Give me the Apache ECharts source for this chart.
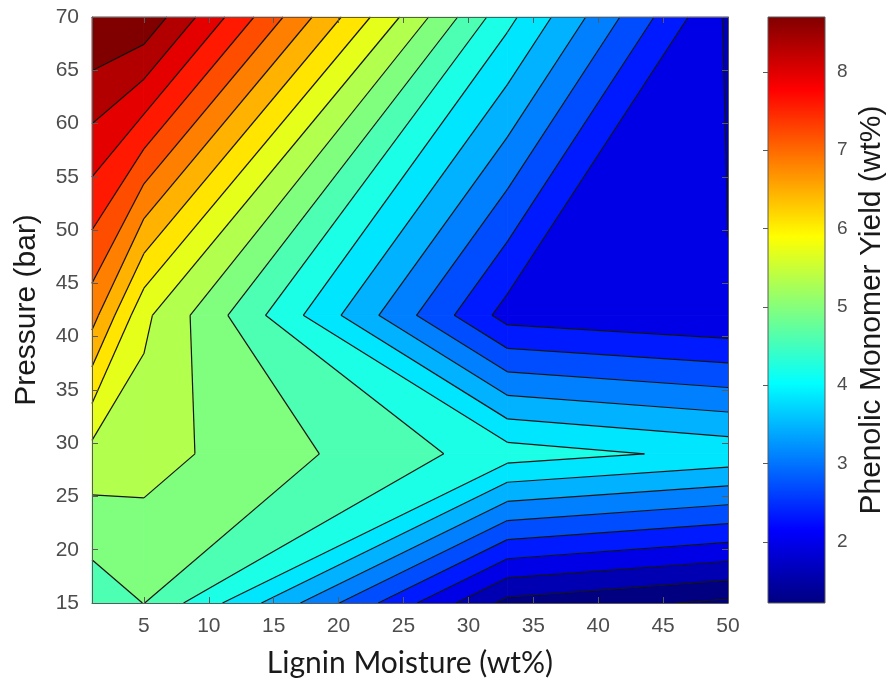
<!DOCTYPE html>
<html>
<head>
<meta charset="utf-8">
<script src="https://cdn.jsdelivr.net/npm/echarts@6/dist/echarts.min.js"></script>
<style>
  html, body { margin: 0; padding: 0; background: #ffffff; }
  #chart { width: 891px; height: 685px; }
</style>
</head>
<body>
<div id="chart"></div>
<script>
// Measurement grid: lignin moisture (wt%) x pressure (bar)
const moisture = [1, 5, 33, 50];
const pressure = [15, 29, 42, 70];
// Phenolic monomer yield (wt%), one row per pressure, one column per moisture
const yield15 = [4.90, 5.145, 1.82, 1.50];
const yield29 = [5.72, 5.64, 4.60, 4.32];
const yield42 = [7.06, 5.93, 2.50, 2.31];
const yield70 = [9.06, 8.98, 4.53, 2.23];
const yieldRows = [yield15, yield29, yield42, yield70];

// Contour levels and colour-bar limits
const levels = [1.576, 1.932, 2.289, 2.645, 3.001, 3.357, 3.713, 4.070, 4.426, 4.782,
                5.138, 5.494, 5.850, 6.207, 6.563, 6.919, 7.275, 7.632, 7.988, 8.344, 8.700];
const colorRange = [1.22, 8.70];

// Tick labels
const xTicks = [5, 10, 15, 20, 25, 30, 35, 40, 45, 50];
const yTicks = [15, 20, 25, 30, 35, 40, 45, 50, 55, 60, 65, 70];
const cbTicks = [2, 3, 4, 5, 6, 7, 8];

// Jet colormap
function clamp01(v) { return Math.max(0, Math.min(1, v)); }
function jetRGB(t) {
  t = clamp01(t);
  return [
    Math.round(255 * clamp01(1.5 - Math.abs(4 * t - 3))),
    Math.round(255 * clamp01(1.5 - Math.abs(4 * t - 2))),
    Math.round(255 * clamp01(1.5 - Math.abs(4 * t - 1)))
  ];
}
function jet(t) { const c = jetRGB(t); return 'rgb(' + c.join(',') + ')'; }

// Each filled band takes the colour of its lower contour level,
// spread over the first..last level range
function bandColor(k) {
  const lo = levels[0], hi = levels[levels.length - 1];
  const v = k === 0 ? lo : levels[k - 1];
  return jet((v - lo) / (hi - lo));
}

// Cells of the grid, referenced by their lower-left corner
const nx = moisture.length - 1, ny = pressure.length - 1;
const cells = [];
for (let j = 0; j < ny; j++) {
  for (let i = 0; i < nx; i++) cells.push([moisture[i], pressure[j], i, j]);
}

function cellRing(i, j) {
  return [
    { x: moisture[i],     y: pressure[j],     v: yieldRows[j][i] },
    { x: moisture[i + 1], y: pressure[j],     v: yieldRows[j][i + 1] },
    { x: moisture[i + 1], y: pressure[j + 1], v: yieldRows[j + 1][i + 1] },
    { x: moisture[i],     y: pressure[j + 1], v: yieldRows[j + 1][i] }
  ];
}

// Clip a cell outline (values vary linearly along its edges) to v >= level or v <= level
function clipRing(ring, level, keepAbove) {
  const out = [];
  for (let n = 0; n < ring.length; n++) {
    const p = ring[n], q = ring[(n + 1) % ring.length];
    const pin = keepAbove ? p.v >= level : p.v <= level;
    const qin = keepAbove ? q.v >= level : q.v <= level;
    if (pin) out.push(p);
    if (pin !== qin) {
      const t = (level - p.v) / (q.v - p.v);
      out.push({ x: p.x + t * (q.x - p.x), y: p.y + t * (q.y - p.y), v: level });
    }
  }
  return out;
}

function renderBands(params, api) {
  const i = api.value(2), j = api.value(3);
  const ring = cellRing(i, j);
  const bounds = [-Infinity].concat(levels, [Infinity]);
  const children = [];
  for (let k = 0; k < bounds.length - 1; k++) {
    let poly = ring;
    if (bounds[k] !== -Infinity) poly = clipRing(poly, bounds[k], true);
    if (poly.length >= 3 && bounds[k + 1] !== Infinity) poly = clipRing(poly, bounds[k + 1], false);
    if (poly.length < 3) continue;
    const color = bandColor(k);
    children.push({
      type: 'polygon',
      shape: { points: poly.map(p => api.coord([p.x, p.y])) },
      style: { fill: color, stroke: color, lineWidth: 0.8 }
    });
  }
  return { type: 'group', children: children };
}

function renderLines(params, api) {
  const i = api.value(2), j = api.value(3);
  const ring = cellRing(i, j);
  const children = [];
  levels.forEach(level => {
    const pts = [];
    for (let n = 0; n < 4; n++) {
      const p = ring[n], q = ring[(n + 1) % 4];
      if ((p.v - level) * (q.v - level) < 0) {
        const t = (level - p.v) / (q.v - p.v);
        pts.push(api.coord([p.x + t * (q.x - p.x), p.y + t * (q.y - p.y)]));
      }
    }
    for (let m = 0; m + 1 < pts.length; m += 2) {
      children.push({
        type: 'polyline',
        shape: { points: [pts[m], pts[m + 1]] },
        style: { stroke: '#141414', lineWidth: 1.2, fill: null }
      });
    }
  });
  return { type: 'group', children: children };
}

// Gradient for the colour bar
const jetStops = [];
for (let s = 0; s <= 32; s++) jetStops.push({ offset: s / 32, color: jet(s / 32) });

function renderColorbar(params, api) {
  const p0 = api.coord([0, colorRange[0]]);
  const p1 = api.coord([1, colorRange[1]]);
  return {
    type: 'rect',
    shape: { x: p0[0], y: p1[1], width: p1[0] - p0[0], height: p0[1] - p1[1] },
    style: {
      fill: new echarts.graphic.LinearGradient(0, 1, 0, 0, jetStops),
      stroke: '#5a5a5a', lineWidth: 1
    }
  };
}

const tickFont = { fontFamily: 'Liberation Sans', fontSize: 21, color: '#4d4d4d' };
const frameLine = { show: true, lineStyle: { color: '#5a5a5a', width: 1 } };

const chart = echarts.init(document.getElementById('chart'), null, { renderer: 'canvas' });
chart.setOption({
  animation: false,
  backgroundColor: '#ffffff',
  grid: [
    { left: 92, top: 17, width: 636, height: 586 },
    { left: 768, top: 17, width: 57, height: 586 }
  ],
  xAxis: [
    {
      type: 'value', gridIndex: 0, min: 1, max: 50, z: 10,
      axisLine: frameLine,
      axisTick: { show: true, inside: true, length: 6, customValues: xTicks, lineStyle: { color: '#5a5a5a' } },
      axisLabel: Object.assign({ margin: 13, customValues: xTicks }, tickFont),
      splitLine: { show: false },
      name: 'Lignin Moisture (wt%)', nameLocation: 'middle', nameGap: 45,
      nameTextStyle: { fontFamily: 'Lato', fontSize: 30, color: '#1a1a1a' }
    },
    {
      type: 'value', gridIndex: 0, min: 1, max: 50, position: 'top', z: 10,
      axisLine: frameLine,
      axisTick: { show: true, inside: true, length: 6, customValues: xTicks, lineStyle: { color: '#5a5a5a' } },
      axisLabel: { show: false },
      splitLine: { show: false }
    },
    { type: 'value', gridIndex: 1, min: 0, max: 1, show: false }
  ],
  yAxis: [
    {
      type: 'value', gridIndex: 0, min: 15, max: 70, interval: 5, z: 10,
      axisLine: frameLine,
      axisTick: { show: true, inside: true, length: 6, lineStyle: { color: '#5a5a5a' } },
      axisLabel: Object.assign({ margin: 13 }, tickFont),
      splitLine: { show: false },
      name: 'Pressure (bar)', nameLocation: 'middle', nameGap: 50, nameRotate: 90,
      nameTextStyle: { fontFamily: 'Liberation Sans', fontSize: 30, color: '#1a1a1a' }
    },
    {
      type: 'value', gridIndex: 0, min: 15, max: 70, interval: 5, position: 'right', z: 10,
      axisLine: frameLine,
      axisTick: { show: true, inside: true, length: 6, lineStyle: { color: '#5a5a5a' } },
      axisLabel: { show: false },
      splitLine: { show: false }
    },
    {
      type: 'value', gridIndex: 1, min: colorRange[0], max: colorRange[1], position: 'right', z: 10,
      axisLine: { show: false },
      axisTick: { show: true, inside: true, length: 5, customValues: cbTicks, lineStyle: { color: '#5a5a5a' } },
      axisLabel: Object.assign({ margin: 12, customValues: cbTicks }, tickFont, { fontSize: 19 }),
      splitLine: { show: false },
      name: 'Phenolic Monomer Yield (wt%)', nameLocation: 'middle', nameGap: 32, nameRotate: 90,
      nameTextStyle: { fontFamily: 'Liberation Sans', fontSize: 30, color: '#1a1a1a' }
    }
  ],
  series: [
    {
      type: 'custom', name: 'bands', xAxisIndex: 0, yAxisIndex: 0,
      renderItem: renderBands, data: cells, encode: { x: 0, y: 1 }, z: 2, silent: true
    },
    {
      type: 'custom', name: 'contours', xAxisIndex: 0, yAxisIndex: 0,
      renderItem: renderLines, data: cells, encode: { x: 0, y: 1 }, z: 3, silent: true
    },
    {
      type: 'custom', name: 'colorbar', xAxisIndex: 2, yAxisIndex: 2,
      renderItem: renderColorbar, data: [[0, colorRange[0]]], encode: { x: 0, y: 1 }, z: 2, silent: true
    }
  ]
});
</script>
</body>
</html>
